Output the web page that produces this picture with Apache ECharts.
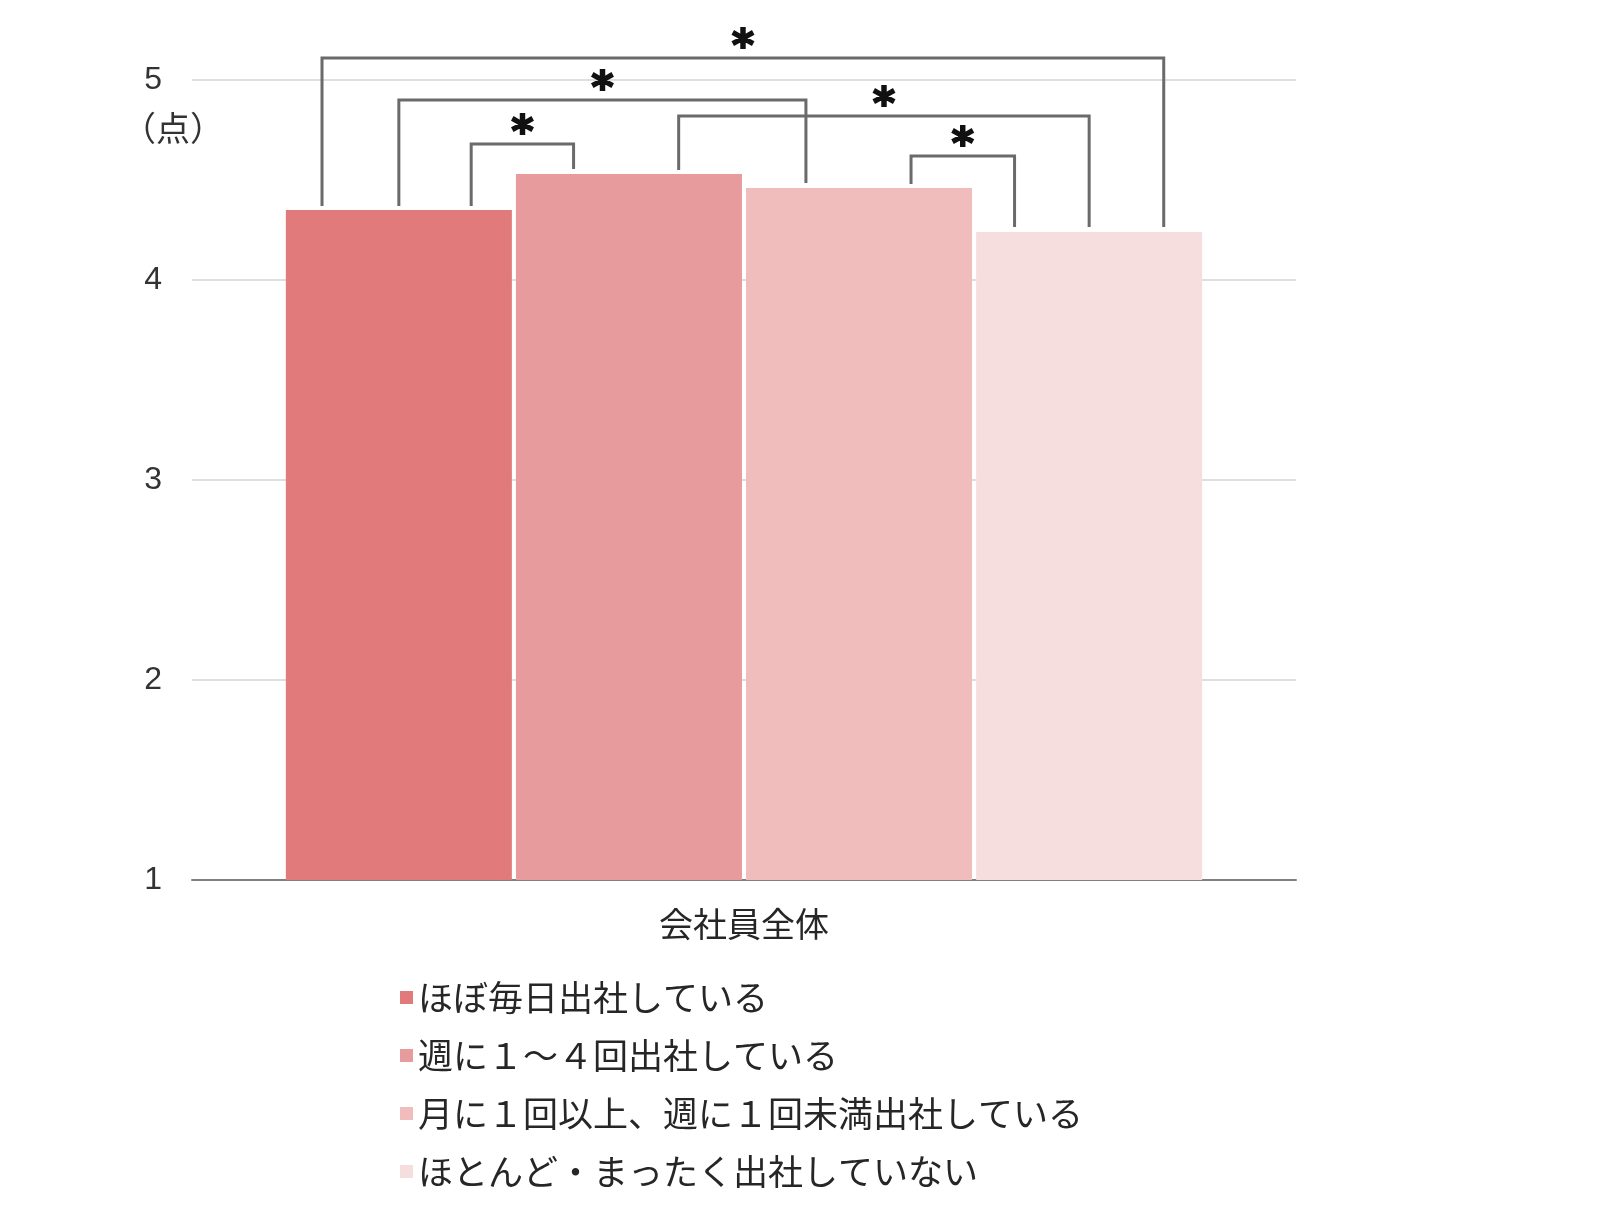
<!DOCTYPE html>
<html>
<head>
<meta charset="utf-8">
<script src="https://cdn.jsdelivr.net/npm/echarts@6/dist/echarts.min.js"></script>
<style>
html,body{margin:0;padding:0;background:#fff;}
#main{width:1600px;height:1215px;}
</style>
</head>
<body>
<div id="main"></div>
<script>
// ---- data ----
const categories = ['会社員全体'];
const seriesNames = [
  'ほぼ毎日出社している',
  '週に１～４回出社している',
  '月に１回以上、週に１回未満出社している',
  'ほとんど・まったく出社していない'
];
const seriesValues = [4.35, 4.53, 4.46, 4.24];
const seriesColors = ['#E17A7A', '#E89B9C', '#F0BCBC', '#F6DEDF'];
const yTicks = [1, 2, 3, 4, 5];
const unitLabel = '（点）';
// significance brackets: [fromBar, fromOffset(frac of bar width), toBar, toOffset, topValue]
const brackets = [
  [0, -0.34, 3, 0.33, 5.11],
  [0, 0.0, 2, -0.235, 4.90],
  [0, 0.32, 1, -0.245, 4.68],
  [1, 0.22, 3, 0.0, 4.82],
  [2, 0.23, 3, -0.33, 4.62]
];
const sigMark = '*';

const chart = echarts.init(document.getElementById('main'), null, {renderer: 'canvas'});
const FONT = '"Noto Sans CJK JP", "Noto Sans", sans-serif';

const option = {
  animation: false,
  backgroundColor: '#ffffff',
  grid: {left: 192, right: 304, top: 80, bottom: 335, containLabel: false},
  legend: {
    orient: 'vertical',
    left: 395,
    top: 975,
    itemWidth: 13,
    itemHeight: 13,
    itemGap: 23,
    itemTextGap: 9,
    icon: 'rect',
    data: seriesNames,
    textStyle: {fontSize: 35, lineHeight: 35, color: '#262626', fontFamily: FONT}
  },
  xAxis: {
    type: 'category',
    data: categories,
    axisLine: {show: true, lineStyle: {color: '#7f7f7f', width: 2}},
    axisTick: {show: false},
    axisLabel: {fontSize: 34, color: '#262626', margin: 27, fontFamily: FONT}
  },
  yAxis: {
    type: 'value',
    min: yTicks[0],
    max: yTicks[yTicks.length - 1],
    interval: 1,
    axisLine: {show: false},
    axisTick: {show: false},
    axisLabel: {fontSize: 32, color: '#333333', margin: 30, fontFamily: '"Liberation Sans", Arial, sans-serif'},
    splitLine: {lineStyle: {color: '#d4d4d4', width: 1.5}}
  },
  series: seriesNames.map((name, i) => ({
    name: name,
    type: 'bar',
    data: [seriesValues[i]],
    barGap: '1.8%',
    barCategoryGap: '17%',
    itemStyle: {color: seriesColors[i]}
  }))
};
chart.setOption(option);

function barLayout(i) {
  try {
    const l = chart.getModel().getSeriesByIndex(i).getData().getItemLayout(0);
    if (l && isFinite(l.x)) return {cx: l.x + l.width / 2, w: Math.abs(l.width)};
  } catch (e) {}
  const rect = chart.getModel().getComponent('grid', 0).coordinateSystem.getRect();
  const bw = rect.width * 0.83 / (4 + 3 * 0.018);
  const start = rect.x + rect.width * 0.085;
  return {cx: start + bw / 2 + i * bw * 1.018, w: bw};
}
function yPx(v) {
  return chart.convertToPixel({yAxisIndex: 0}, v);
}

const graphics = [];
brackets.forEach(b => {
  const [fa, fo, ta, to, top] = b;
  const A = barLayout(fa), B = barLayout(ta);
  const x1 = A.cx + fo * A.w;
  const x2 = B.cx + to * B.w;
  const yTop = yPx(top);
  const y1 = yPx(seriesValues[fa]) - 4;
  const y2 = yPx(seriesValues[ta]) - 5;
  graphics.push({
    type: 'polyline',
    shape: {points: [[x1, y1], [x1, yTop], [x2, yTop], [x2, y2]]},
    style: {stroke: '#6a6a6a', lineWidth: 3, fill: null},
    z: 10
  });
  graphics.push({
    type: 'text',
    x: (x1 + x2) / 2,
    y: yTop - 9,
    style: {
      text: sigMark,
      fontSize: 42,
      fontWeight: 'bold',
      fontFamily: '"DejaVu Sans", sans-serif',
      fill: '#111111',
      stroke: '#111111',
      lineWidth: 2,
      align: 'center',
      verticalAlign: 'middle'
    },
    z: 10
  });
});
graphics.push({
  type: 'text',
  x: 173,
  y: 128,
  style: {
    text: unitLabel,
    fontSize: 34,
    fontFamily: FONT,
    fill: '#333333',
    align: 'center',
    verticalAlign: 'middle'
  }
});
chart.setOption({graphic: graphics});
</script>
</body>
</html>
